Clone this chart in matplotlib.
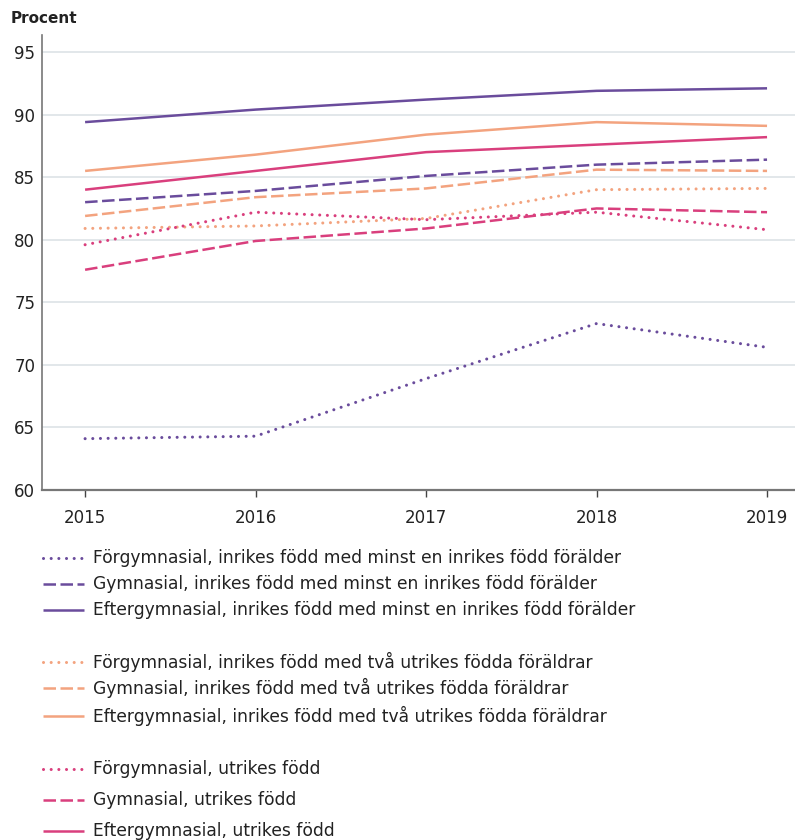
import numpy as np
import matplotlib.pyplot as plt
from matplotlib.lines import Line2D

plt.rcParams['font.family'] = ['DejaVu Sans']

# data
years = [2015, 2016, 2017, 2018, 2019]

forgym_inrikes = [64.1, 64.3, 68.9, 73.3, 71.4]
gym_inrikes = [83.0, 83.9, 85.1, 86.0, 86.4]
efter_inrikes = [89.4, 90.4, 91.2, 91.9, 92.1]

forgym_tva = [80.9, 81.1, 81.7, 84.0, 84.1]
gym_tva = [81.9, 83.4, 84.1, 85.6, 85.5]
efter_tva = [85.5, 86.8, 88.4, 89.4, 89.1]

forgym_utrikes = [79.6, 82.2, 81.6, 82.2, 80.8]
gym_utrikes = [77.6, 79.9, 80.9, 82.5, 82.2]
efter_utrikes = [84.0, 85.5, 87.0, 87.6, 88.2]

labels = [
    'Förgymnasial, inrikes född med minst en inrikes född förälder',
    'Gymnasial, inrikes född med minst en inrikes född förälder',
    'Eftergymnasial, inrikes född med minst en inrikes född förälder',
    'Förgymnasial, inrikes född med två utrikes födda föräldrar',
    'Gymnasial, inrikes född med två utrikes födda föräldrar',
    'Eftergymnasial, inrikes född med två utrikes födda föräldrar',
    'Förgymnasial, utrikes född',
    'Gymnasial, utrikes född',
    'Eftergymnasial, utrikes född',
]
series = [forgym_inrikes, gym_inrikes, efter_inrikes,
          forgym_tva, gym_tva, efter_tva,
          forgym_utrikes, gym_utrikes, efter_utrikes]

purple = '#6a4c9c'
orange = '#f3a37f'
pink = '#d93f7d'
colors = [purple] * 3 + [orange] * 3 + [pink] * 3
kinds = ['dot', 'dash', 'solid'] * 3


def line_style(kind):
    # returns kwargs for the three line types
    if kind == 'dot':
        return dict(linestyle=(0, (0.01, 2.5)), lw=2.2, dash_capstyle='round')
    if kind == 'dash':
        return dict(linestyle=(0, (5, 1.8)), lw=1.8, dash_capstyle='butt')
    return dict(linestyle='-', lw=1.8, solid_capstyle='butt')


W, H = 795, 840
fig = plt.figure(figsize=(W / 100, H / 100), dpi=100)
ax = fig.add_axes([0.053, 0.4167, 0.947, 0.5416])

for y, lab, c, k in zip(series, labels, colors, kinds):
    ax.plot(years, y, color=c, label=lab, **line_style(k))

ax.set_xlim(2014.748, 2019.164)
ax.set_ylim(60, 96.36)
ax.set_yticks(range(60, 96, 5))
ax.set_xticks(years)
ax.grid(axis='y', color='#dde3e6', lw=1.2)
ax.set_axisbelow(True)
for s in ['top', 'right']:
    ax.spines[s].set_visible(False)
ax.spines['left'].set_color('#777777')
ax.spines['bottom'].set_color('#777777')
ax.spines['left'].set_linewidth(1.2)
ax.spines['bottom'].set_linewidth(1.6)
ax.tick_params(axis='y', length=0, labelsize=12, colors='#222222', pad=5)
ax.tick_params(axis='x', length=5, width=1, color='#444444', labelsize=12,
               labelcolor='#222222', pad=9)

fig.text(0.013, 0.978, 'Procent', fontsize=11, fontweight='bold',
         color='#222222', va='center', ha='left')

# legend drawn row by row (three groups with gaps)
row_px = [558, 584, 610, 662, 688, 716, 769, 800, 831]
for i, ypx in enumerate(row_px):
    yf = 1 - ypx / H
    fig.add_artist(Line2D([43 / W, 84 / W], [yf, yf], color=colors[i],
                          transform=fig.transFigure, **line_style(kinds[i])))
    fig.text(93 / W, yf, labels[i], fontsize=12.3, color='#222222',
             va='center', ha='left')

fig.savefig('out.png', dpi=100)
